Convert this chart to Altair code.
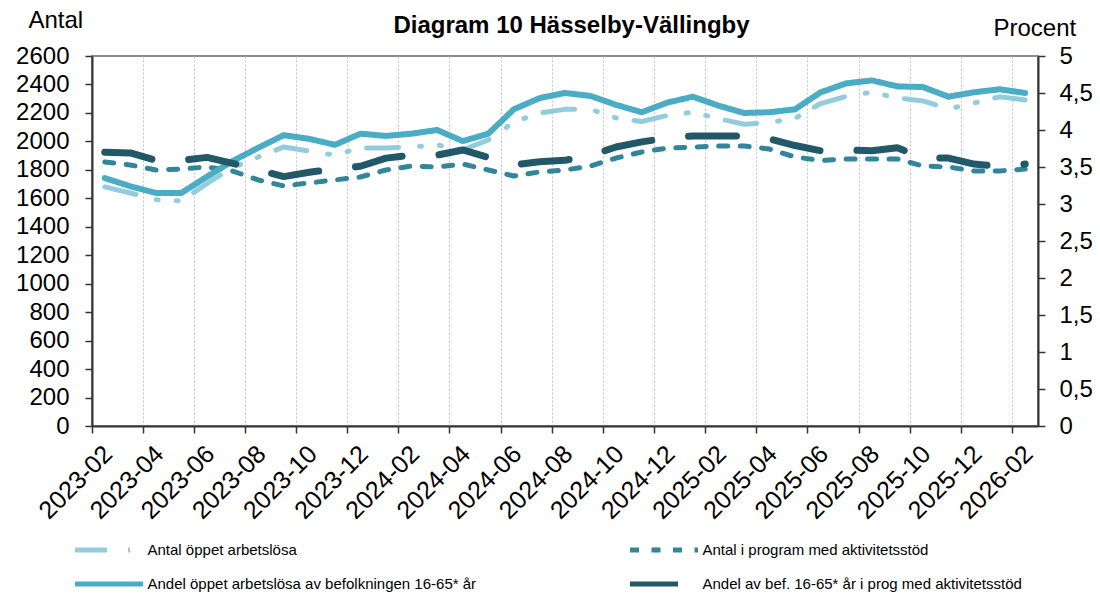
import altair as alt
import pandas as pd

months = [
    "2023-02", "2023-03", "2023-04", "2023-05", "2023-06", "2023-07", "2023-08",
    "2023-09", "2023-10", "2023-11", "2023-12", "2024-01", "2024-02", "2024-03",
    "2024-04", "2024-05", "2024-06", "2024-07", "2024-08", "2024-09", "2024-10",
    "2024-11", "2024-12", "2025-01", "2025-02", "2025-03", "2025-04", "2025-05",
    "2025-06", "2025-07", "2025-08", "2025-09", "2025-10", "2025-11", "2025-12",
    "2026-01", "2026-02",
]

# Antal (left axis)
antal_oppet = [1680, 1637, 1590, 1581, 1705, 1815, 1890, 1961, 1932, 1904, 1954, 1954,
               1961, 1975, 1940, 2010, 2136, 2200, 2225, 2225, 2165, 2140, 2182, 2205,
               2160, 2120, 2133, 2162, 2266, 2317, 2345, 2305, 2284, 2228, 2270, 2313, 2291]
antal_program = [1855, 1834, 1799, 1806, 1820, 1792, 1729, 1687, 1708, 1729, 1750, 1799,
                 1827, 1820, 1841, 1799, 1757, 1785, 1799, 1827, 1883, 1925, 1953, 1960,
                 1968, 1968, 1946, 1890, 1866, 1876, 1876, 1876, 1827, 1820, 1792, 1792, 1806]
# Procent (right axis)
andel_oppet = [3.35, 3.24, 3.15, 3.15, 3.37, 3.58, 3.76, 3.93, 3.88, 3.80, 3.95, 3.92,
               3.95, 4.00, 3.85, 3.95, 4.28, 4.43, 4.50, 4.46, 4.34, 4.24, 4.37, 4.45,
               4.33, 4.23, 4.24, 4.28, 4.51, 4.63, 4.67, 4.59, 4.58, 4.45, 4.51, 4.55, 4.50]
andel_program = [3.70, 3.69, 3.59, 3.59, 3.63, 3.55, 3.46, 3.37, 3.43, 3.47, 3.51, 3.62,
                 3.66, 3.66, 3.73, 3.63, 3.53, 3.57, 3.59, 3.66, 3.77, 3.84, 3.89, 3.92,
                 3.92, 3.92, 3.88, 3.79, 3.72, 3.73, 3.72, 3.76, 3.62, 3.62, 3.54, 3.51, 3.54]

TITLE = "Diagram 10 Hässelby-Vällingby"
S_AO = "Antal öppet arbetslösa"
S_AP = "Antal i program med aktivitetsstöd"
S_PO = "Andel öppet arbetslösa av befolkningen 16-65* år"
S_PP = "Andel av bef. 16-65* år i prog med aktivitetsstöd"

# legend / scale order (legend fills column by column)
legend_order = [S_AO, S_PO, S_AP, S_PP]
colors = ["#93CDDD", "#4BACC6", "#31859C", "#215968"]
dashes = [[32, 21, 2, 18, 2, 18], [1, 0], [9, 12.5], [48, 37]]
widths = {S_AO: 5, S_AP: 5, S_PO: 6, S_PP: 7}

rows = []
for name, vals in [(S_AO, antal_oppet), (S_AP, antal_program),
                   (S_PO, andel_oppet), (S_PP, andel_program)]:
    for m, v in zip(months, vals):
        rows.append({"month": m, "series": name, "value": v})
df = pd.DataFrame(rows)

FONT = "Liberation Sans"
AX = "#333333"

legend = alt.Legend(
    title=None, orient="none", legendX=-19.5, legendY=484, columns=2,
    columnPadding=151, rowPadding=14, clipHeight=20, symbolSize=4624,
    symbolStrokeWidth=5, symbolType="stroke", labelFontSize=15, labelLimit=600,
    labelOffset=2, padding=0, labelColor="black", labelFont=FONT,
)
color = alt.Color("series:N", scale=alt.Scale(domain=legend_order, range=colors), legend=legend)
dash = alt.StrokeDash("series:N", scale=alt.Scale(domain=legend_order, range=dashes), legend=legend)

x_scale = alt.Scale(type="band", paddingInner=0, paddingOuter=0)
x_axis = alt.Axis(
    title=None, values=months[::2], bandPosition=0, grid=True, gridDash=[2, 2],
    gridColor="#c4c4c4", gridWidth=1, labelAngle=-45, labelAlign="right",
    labelBaseline="top", labelOffset=-5, labelPadding=8, labelFontSize=25,
    labelFont=FONT, labelColor="black", labelOverlap=False, tickSize=7,
    tickColor=AX, tickWidth=1.5, domainColor=AX, domainWidth=2,
)
# top axis only carries the chart heading
x_axis_top = alt.Axis(
    orient="top", title=TITLE, titleFontSize=24, titleFontWeight="bold",
    titleFont=FONT, titleColor="black", titleX=479, titleY=-24, titleAlign="center",
    titleBaseline="alphabetic", titleAngle=0, labels=False, ticks=False,
    domain=False, grid=False,
)
x_bottom = alt.X("month:O", sort=months, scale=x_scale, axis=x_axis)
x_top = alt.X("month:O", sort=months, scale=x_scale, axis=x_axis_top)

left_axis = alt.Axis(
    title="Antal", titleAngle=0, titleAlign="left", titleBaseline="alphabetic",
    titleX=-64, titleY=-29, titleFontSize=24, titleFontWeight="normal", titleFont=FONT,
    titleColor="black", values=list(range(0, 2601, 200)), format="d", grid=False,
    labelFontSize=24, labelFont=FONT, labelColor="black", labelPadding=16,
    tickSize=7, tickColor=AX, tickWidth=1.5, domainColor=AX, domainWidth=2,
)
right_axis = alt.Axis(
    title="Procent", orient="right", titleAngle=0, titleAlign="left",
    titleBaseline="alphabetic", titleX=-45, titleY=-21, titleFontSize=24,
    titleFontWeight="normal", titleFont=FONT, titleColor="black",
    values=[i * 0.5 for i in range(11)], format=".1~f",
    labelExpr="replace(datum.label, '.', ',')", grid=False,
    labelFontSize=24, labelFont=FONT, labelColor="black", labelPadding=14,
    tickSize=7, tickColor=AX, tickWidth=1.5, domainColor=AX, domainWidth=2,
)
y_left = alt.Y("value:Q", scale=alt.Scale(domain=[0, 2600], nice=False), axis=left_axis)
y_right = alt.Y("value:Q", scale=alt.Scale(domain=[0, 5], nice=False), axis=right_axis)

base = alt.Chart(df)


def line(name, x, y):
    return base.transform_filter(alt.datum.series == name).mark_line(
        strokeWidth=widths[name], strokeCap="round", strokeJoin="round"
    ).encode(x=x, y=y, color=color, strokeDash=dash)


left = alt.layer(line(S_AO, x_bottom, y_left), line(S_AP, x_bottom, y_left))
right = alt.layer(line(S_PO, x_top, y_right), line(S_PP, x_top, y_right))

chart = alt.layer(left, right).resolve_scale(y="independent").resolve_axis(
    x="independent"
).properties(
    width=946, height=370,
    padding={"left": 84, "top": 48, "right": 54, "bottom": 168},
    autosize=alt.AutoSizeParams(type="none"),
).configure(font=FONT).configure_view(stroke="#8c8c8c", strokeWidth=2)

chart.save("out.html", embed_options={"renderer": "svg", "actions": False})
